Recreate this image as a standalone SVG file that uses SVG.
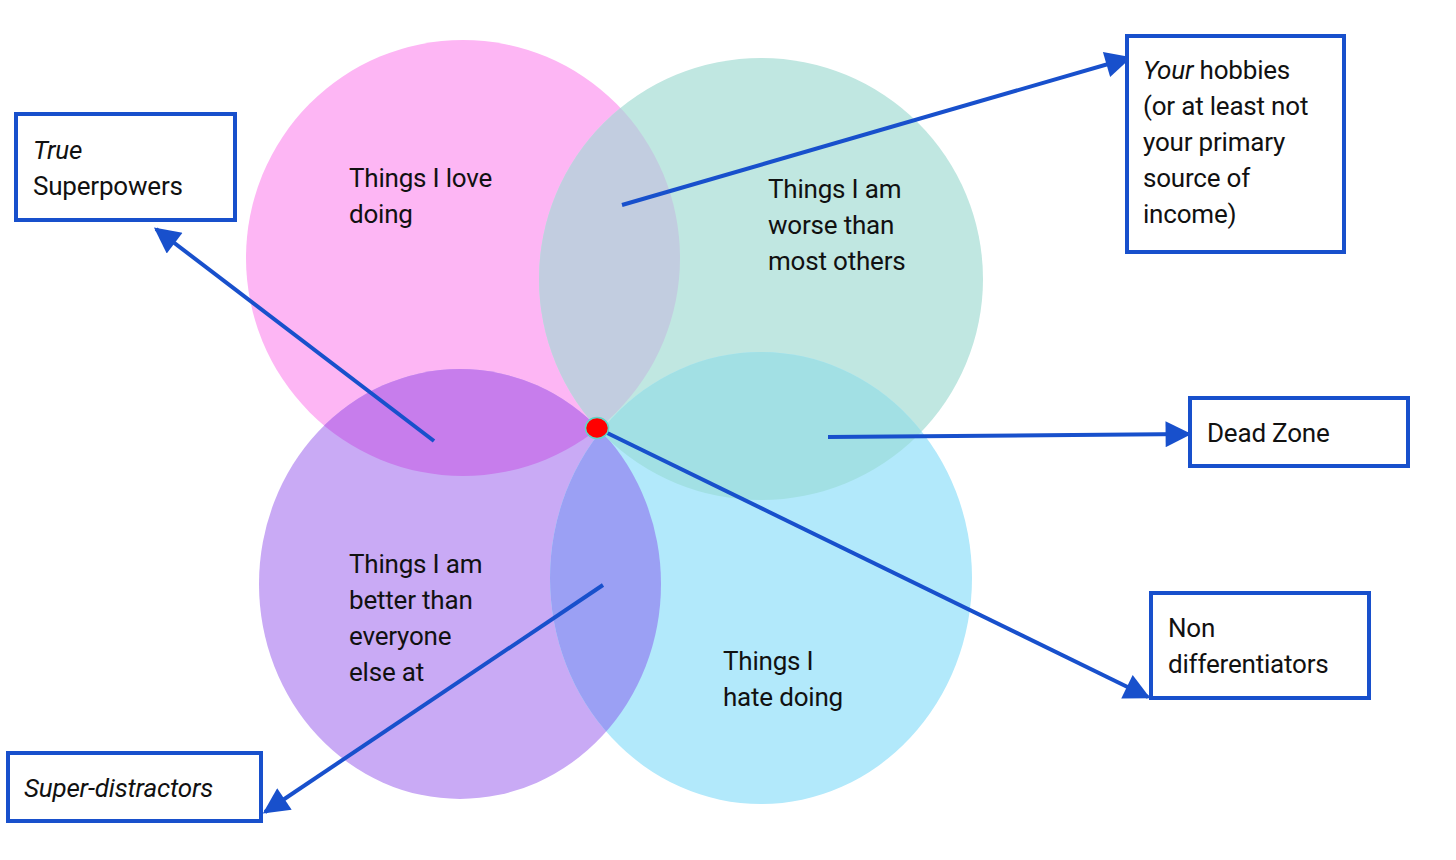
<svg xmlns="http://www.w3.org/2000/svg" width="1456" height="860" viewBox="0 0 1456 860">
<defs>
<style>
.t{font-family:Roboto,"Liberation Sans",sans-serif;font-size:26px;fill:#111;letter-spacing:-0.2px;}
.i{font-style:italic;}
.box{fill:#fff;stroke:#1850cc;stroke-width:4;}
.con{stroke:#1850cc;stroke-width:4;fill:none;marker-end:url(#ah);}
</style>
<marker id="ah" viewBox="0 0 10 10" refX="9" refY="5" markerWidth="8" markerHeight="6.5" markerUnits="strokeWidth" orient="auto">
<path d="M0,0 L10,5 L0,10 z" fill="#1850cc"/>
</marker>
<clipPath id="cPink"><ellipse cx="463" cy="258" rx="217" ry="218"/></clipPath>
<clipPath id="cTeal"><ellipse cx="761" cy="279" rx="222" ry="221"/></clipPath>
<clipPath id="cPurple"><ellipse cx="460" cy="584" rx="201" ry="215"/></clipPath>
<clipPath id="cBlue"><ellipse cx="761" cy="578" rx="211" ry="226"/></clipPath>
</defs>
<rect width="1456" height="860" fill="#fff"/>
<g id="circles">
<ellipse id="pink" cx="463" cy="258" rx="217" ry="218" fill="#fdb6f4"/>
<ellipse id="teal" cx="761" cy="279" rx="222" ry="221" fill="#c0e7e1"/>
<ellipse id="purple" cx="460" cy="584" rx="201" ry="215" fill="#c9aaf5"/>
<ellipse id="blue" cx="761" cy="578" rx="211" ry="226" fill="#b2e9fb"/>
<ellipse cx="761" cy="279" rx="222" ry="221" fill="#c2cde0" clip-path="url(#cPink)"/>
<ellipse cx="460" cy="584" rx="201" ry="215" fill="#c77dec" clip-path="url(#cPink)"/>
<ellipse cx="761" cy="578" rx="211" ry="226" fill="#9ba0f4" clip-path="url(#cPurple)"/>
<ellipse cx="761" cy="578" rx="211" ry="226" fill="#a2e0e4" clip-path="url(#cTeal)"/>
</g>
<g id="circle-labels">
<text class="t" x="349" y="187">Things I love</text>
<text class="t" x="349" y="223">doing</text>
<text class="t" x="768" y="198">Things I am</text>
<text class="t" x="768" y="234">worse than</text>
<text class="t" x="768" y="270">most others</text>
<text class="t" x="349" y="573">Things I am</text>
<text class="t" x="349" y="609">better than</text>
<text class="t" x="349" y="645">everyone</text>
<text class="t" x="349" y="681">else at</text>
<text class="t" x="723" y="670">Things I</text>
<text class="t" x="723" y="706">hate doing</text>
</g>
<g id="connectors">
<line class="con" x1="622" y1="205" x2="1129" y2="58"/>
<line class="con" x1="434" y1="441" x2="156" y2="229"/>
<line class="con" x1="828" y1="437" x2="1189" y2="434"/>
<line class="con" x1="597" y1="428" x2="1148" y2="697"/>
<line class="con" x1="603" y1="585" x2="265" y2="812"/>
</g>
<g id="dot">
<ellipse cx="597" cy="428" rx="11.5" ry="10.5" fill="#ff0000" stroke="#5fd6c9" stroke-width="1.5"/>
</g>
<g id="node-true-superpowers">
<rect class="box" x="16" y="114" width="219" height="106"/>
<text class="t i" x="33" y="159">True</text>
<text class="t" x="33" y="195">Superpowers</text>
</g>
<g id="node-hobbies">
<rect class="box" x="1127" y="36" width="217" height="216"/>
<text class="t" x="1143" y="79"><tspan class="i">Your</tspan> hobbies</text>
<text class="t" x="1143" y="115">(or at least not</text>
<text class="t" x="1143" y="151">your primary</text>
<text class="t" x="1143" y="187">source of</text>
<text class="t" x="1143" y="223">income)</text>
</g>
<g id="node-dead-zone">
<rect class="box" x="1190" y="398" width="218" height="68"/>
<text class="t" x="1207" y="442">Dead Zone</text>
</g>
<g id="node-non-differentiators">
<rect class="box" x="1151" y="593" width="218" height="105"/>
<text class="t" x="1168" y="637">Non</text>
<text class="t" x="1168" y="673">differentiators</text>
</g>
<g id="node-super-distractors">
<rect class="box" x="8" y="753" width="253" height="68"/>
<text class="t i" x="24" y="797">Super-distractors</text>
</g>
</svg>
